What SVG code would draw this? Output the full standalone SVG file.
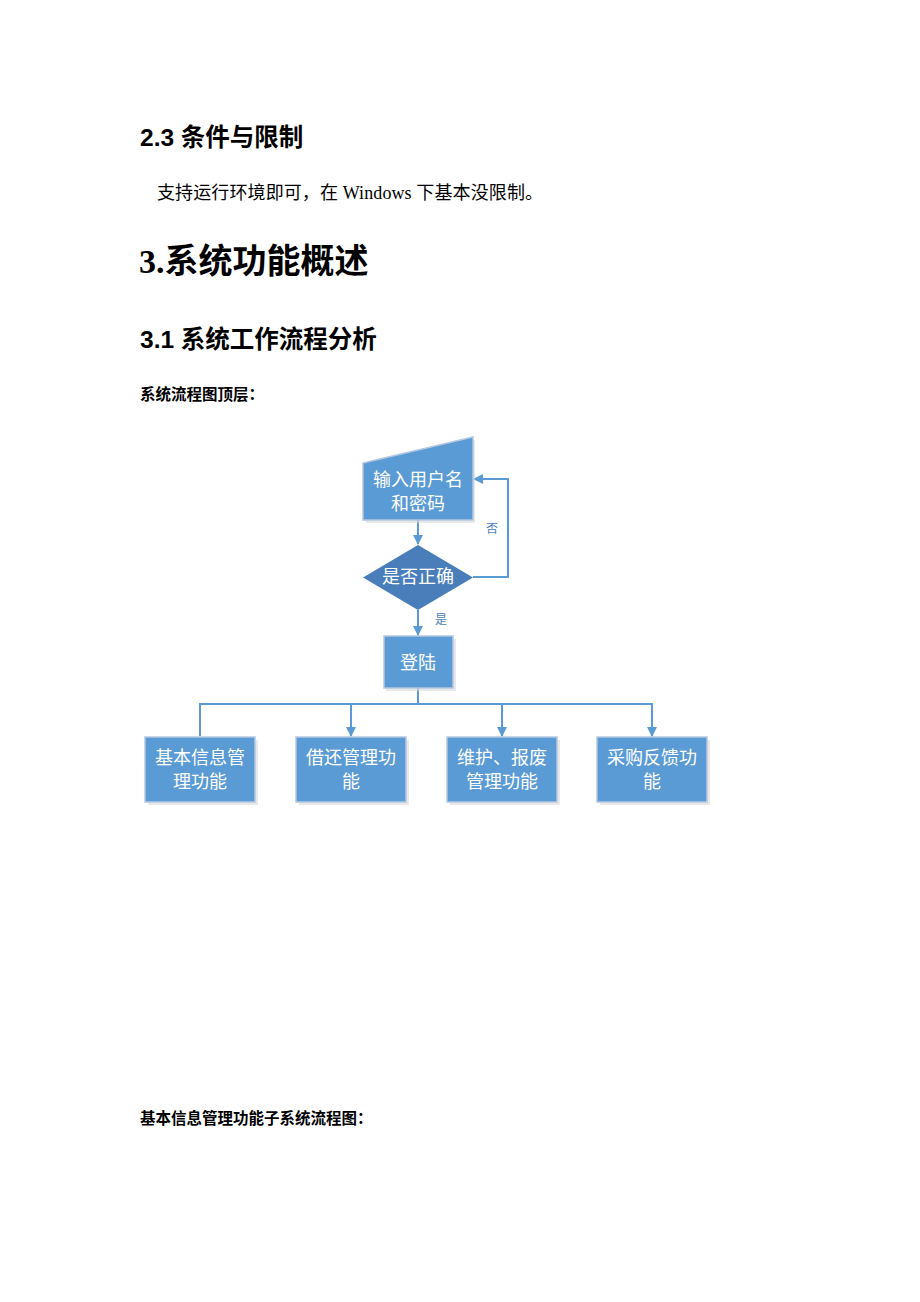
<svg xmlns="http://www.w3.org/2000/svg" width="920" height="1302" viewBox="0 0 920 1302">
<defs>
<style>
.h2{font-family:"Liberation Sans","Noto Sans CJK SC",sans-serif;font-weight:bold;font-size:24.5px;fill:#000}
.h1{font-family:"Liberation Serif","Noto Sans CJK SC",serif;font-weight:bold;font-size:34px;fill:#000}
.body{font-family:"Liberation Serif","Noto Sans CJK SC",serif;font-size:18px;fill:#000}
.cap{font-family:"Noto Sans CJK SC",sans-serif;font-weight:bold;font-size:15.5px;fill:#000}
.nt{font-family:"Noto Sans CJK SC",sans-serif;font-size:18px;fill:#fff;text-anchor:middle}
.lbl{font-family:"Noto Sans CJK SC",sans-serif;font-size:12px;fill:#4a7ebb}
.box{fill:#5b9bd5;stroke:#b4c7e0;stroke-width:1.5}
.shadow{fill:#d9d9d9;opacity:0.6}
.ln{fill:none;stroke:#5b9bd5;stroke-width:2}
</style>
<marker id="ah" markerWidth="10" markerHeight="10" refX="9" refY="5" orient="auto" markerUnits="userSpaceOnUse">
<path d="M0,0 L10,5 L0,10 Z" fill="#5b9bd5"/>
</marker>
</defs>
<rect width="920" height="1302" fill="#fff"/>
<text class="h2" x="140" y="146">2.3 条件与限制</text>
<text class="body" x="157" y="199" textLength="386" lengthAdjust="spacing">支持运行环境即可，在 Windows 下基本没限制。</text>
<text class="h1" x="139" y="273">3.系统功能概述</text>
<text class="h2" x="140" y="348">3.1 系统工作流程分析</text>
<text class="cap" x="140" y="400">系统流程图顶层：</text>
<text class="cap" x="140" y="1124">基本信息管理功能子系统流程图：</text>

<g id="connectors">
<path class="ln" d="M418,520 V544" marker-end="url(#ah)"/>
<path class="ln" d="M473,577 H508 V479 H474" marker-end="url(#ah)"/>
<path class="ln" d="M418,610 V635" marker-end="url(#ah)"/>
<path class="ln" d="M418,688 V704"/>
<path class="ln" d="M200,736 V704 H652 V736" marker-end="url(#ah)"/>
<path class="ln" d="M351,704 V736" marker-end="url(#ah)"/>
<path class="ln" d="M502,704 V736" marker-end="url(#ah)"/>
<text class="lbl" x="486" y="533">否</text>
<text class="lbl" x="435" y="624">是</text>
</g>

<g id="n-input">
<path class="shadow" d="M366,466 L475,440 V523 H366 Z"/>
<path d="M363,463 L473,437 V520 H363 Z" fill="#5b9bd5" stroke="#b4c7e0" stroke-width="1.5"/>
<text class="nt" x="418" y="486">输入用户名</text>
<text class="nt" x="418" y="510">和密码</text>
</g>

<g id="n-check">
<path d="M418,545 L473,577.5 L418,610 L363,577.5 Z" fill="#4a7ebb"/>
<text class="nt" x="418" y="583">是否正确</text>
</g>

<g id="n-login">
<rect class="shadow" x="386" y="639" width="70" height="52"/>
<rect class="box" x="384" y="636" width="69" height="52"/>
<text class="nt" x="418" y="669">登陆</text>
</g>

<g id="n-basic">
<rect class="shadow" x="148" y="740" width="110" height="65"/>
<rect class="box" x="145" y="737" width="110" height="65"/>
<text class="nt" x="200" y="764">基本信息管</text>
<text class="nt" x="200" y="788">理功能</text>
</g>

<g id="n-borrow">
<rect class="shadow" x="299" y="740" width="110" height="65"/>
<rect class="box" x="296" y="737" width="110" height="65"/>
<text class="nt" x="351" y="764">借还管理功</text>
<text class="nt" x="351" y="788">能</text>
</g>

<g id="n-maint">
<rect class="shadow" x="450" y="740" width="110" height="65"/>
<rect class="box" x="447" y="737" width="110" height="65"/>
<text class="nt" x="502" y="764">维护、报废</text>
<text class="nt" x="502" y="788">管理功能</text>
</g>

<g id="n-purchase">
<rect class="shadow" x="600" y="740" width="110" height="65"/>
<rect class="box" x="597" y="737" width="110" height="65"/>
<text class="nt" x="652" y="764">采购反馈功</text>
<text class="nt" x="652" y="788">能</text>
</g>
</svg>
